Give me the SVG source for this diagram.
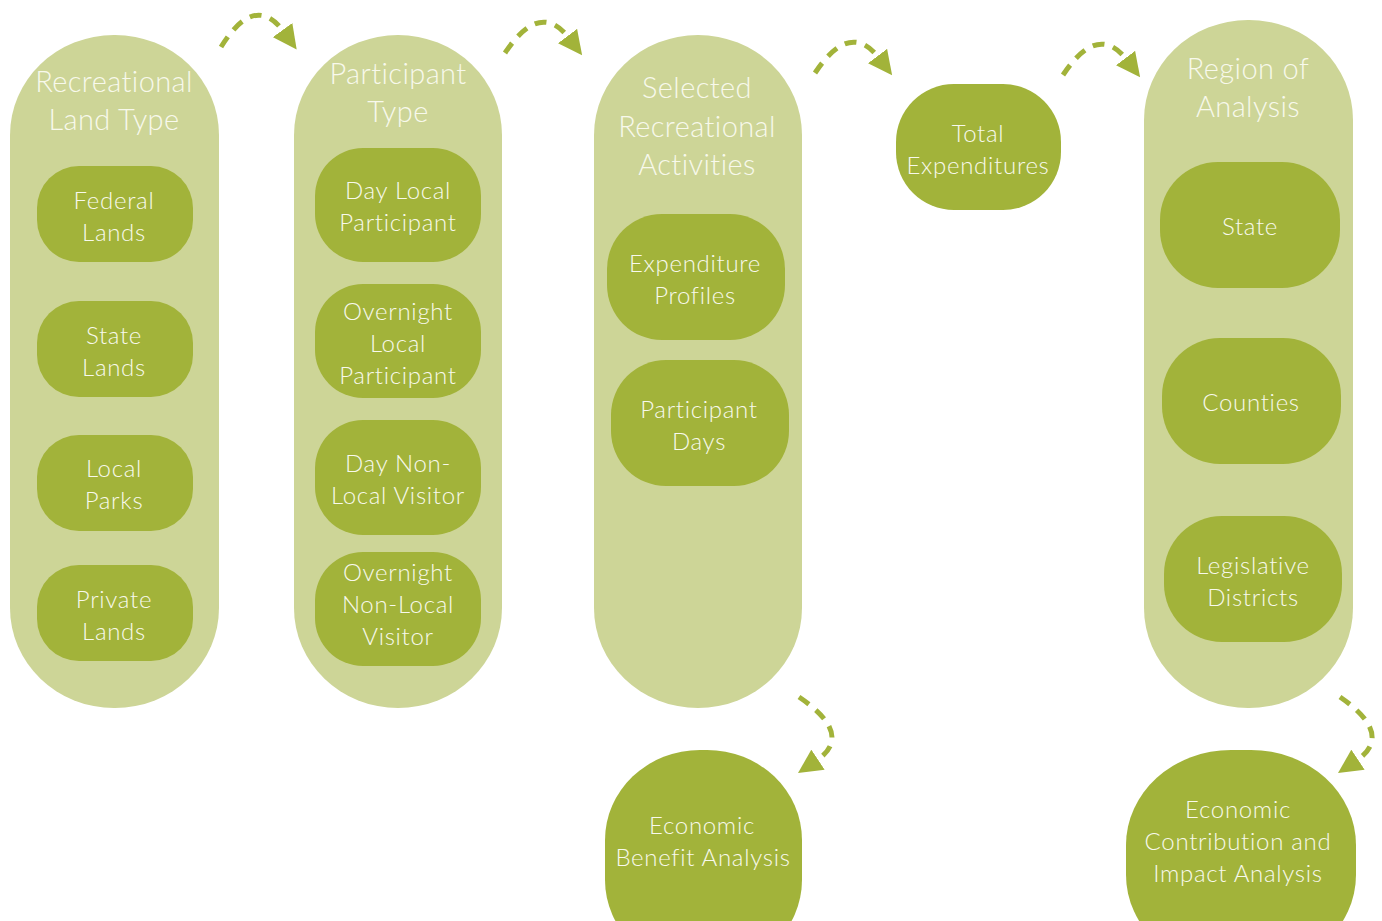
<svg xmlns="http://www.w3.org/2000/svg" width="1382" height="921" viewBox="0 0 1382 921">
<defs>
<style>
.outer{fill:#cdd597}
.inner{fill:#a2b33a}
.t{font-family:Lato,"Open Sans","Liberation Sans",sans-serif;font-weight:300;fill:#f8f9ec;text-anchor:middle}
.title{font-size:29px;letter-spacing:0.4px}
.lbl{font-size:24px;letter-spacing:0.7px}
.arr{fill:none;stroke:#a2b33a;stroke-width:5;stroke-dasharray:12 9}
</style>
<marker id="ah" viewBox="0 0 10 10" refX="1" refY="5" markerUnits="userSpaceOnUse" markerWidth="24" markerHeight="24" orient="auto">
<path d="M0,0 L10,5 L0,10 z" fill="#a2b33a"/>
</marker>
</defs>
<rect width="1382" height="921" fill="#ffffff"/>

<g id="col-land">
<rect class="outer" x="10" y="35" width="209" height="673" rx="104" ry="100"/>
<text class="t title" x="114" y="92">Recreational</text>
<text class="t title" x="114" y="130">Land Type</text>
</g>
<g id="federal-lands"><rect class="inner" x="37" y="166" width="156" height="96" rx="42"/>
<text class="t lbl" x="114" y="209">Federal</text><text class="t lbl" x="114" y="241">Lands</text></g>
<g id="state-lands"><rect class="inner" x="37" y="301" width="156" height="96" rx="42"/>
<text class="t lbl" x="114" y="344">State</text><text class="t lbl" x="114" y="376">Lands</text></g>
<g id="local-parks"><rect class="inner" x="37" y="435" width="156" height="96" rx="42"/>
<text class="t lbl" x="114" y="477">Local</text><text class="t lbl" x="114" y="509">Parks</text></g>
<g id="private-lands"><rect class="inner" x="37" y="565" width="156" height="96" rx="42"/>
<text class="t lbl" x="114" y="608">Private</text><text class="t lbl" x="114" y="640">Lands</text></g>

<g id="col-participant">
<rect class="outer" x="294" y="35" width="208" height="673" rx="104" ry="100"/>
<text class="t title" x="398" y="84">Participant</text>
<text class="t title" x="398" y="122">Type</text>
</g>
<g id="day-local"><rect class="inner" x="315" y="148" width="166" height="114" rx="48"/>
<text class="t lbl" x="398" y="199">Day Local</text><text class="t lbl" x="398" y="231">Participant</text></g>
<g id="overnight-local"><rect class="inner" x="315" y="284" width="166" height="114" rx="48"/>
<text class="t lbl" x="398" y="320">Overnight</text><text class="t lbl" x="398" y="352">Local</text><text class="t lbl" x="398" y="384">Participant</text></g>
<g id="day-nonlocal"><rect class="inner" x="315" y="420" width="166" height="115" rx="48"/>
<text class="t lbl" x="398" y="472">Day Non-</text><text class="t lbl" x="398" y="504">Local Visitor</text></g>
<g id="overnight-nonlocal"><rect class="inner" x="315" y="552" width="166" height="114" rx="48"/>
<text class="t lbl" x="398" y="581">Overnight</text><text class="t lbl" x="398" y="613">Non-Local</text><text class="t lbl" x="398" y="645">Visitor</text></g>

<g id="col-activities">
<rect class="outer" x="594" y="35" width="208" height="673" rx="104" ry="100"/>
<text class="t title" x="697" y="98">Selected</text>
<text class="t title" x="697" y="137">Recreational</text>
<text class="t title" x="697" y="175">Activities</text>
</g>
<g id="expenditure-profiles"><rect class="inner" x="607" y="214" width="178" height="126" rx="55"/>
<text class="t lbl" x="695" y="272">Expenditure</text><text class="t lbl" x="695" y="304">Profiles</text></g>
<g id="participant-days"><rect class="inner" x="611" y="360" width="178" height="126" rx="55"/>
<text class="t lbl" x="699" y="418">Participant</text><text class="t lbl" x="699" y="450">Days</text></g>

<g id="total-expenditures"><rect class="inner" x="896" y="84" width="165" height="126" rx="58"/>
<text class="t lbl" x="978" y="142">Total</text><text class="t lbl" x="978" y="174">Expenditures</text></g>

<g id="col-region">
<rect class="outer" x="1144" y="20" width="209" height="688" rx="104" ry="100"/>
<text class="t title" x="1248" y="79">Region of</text>
<text class="t title" x="1248" y="117">Analysis</text>
</g>
<g id="state"><rect class="inner" x="1160" y="162" width="180" height="126" rx="58"/>
<text class="t lbl" x="1250" y="235">State</text></g>
<g id="counties"><rect class="inner" x="1162" y="338" width="179" height="126" rx="58"/>
<text class="t lbl" x="1251" y="411">Counties</text></g>
<g id="legislative"><rect class="inner" x="1164" y="516" width="178" height="126" rx="58"/>
<text class="t lbl" x="1253" y="574">Legislative</text><text class="t lbl" x="1253" y="606">Districts</text></g>

<g id="economic-benefit"><rect class="inner" x="605" y="750" width="197" height="220" rx="95" ry="90"/>
<text class="t lbl" x="702" y="834">Economic</text><text class="t lbl" x="703" y="866">Benefit Analysis</text></g>
<g id="economic-contribution"><rect class="inner" x="1126" y="750" width="230" height="220" rx="105" ry="95"/>
<text class="t lbl" x="1238" y="818">Economic</text><text class="t lbl" x="1238" y="850">Contribution and</text><text class="t lbl" x="1238" y="882">Impact Analysis</text></g>

<g id="connectors">
<path class="arr" d="M221,47 Q255,-8 284,32" marker-end="url(#ah)"/>
<path class="arr" d="M505,53 Q540,0 569,38" marker-end="url(#ah)"/>
<path class="arr" d="M815,73 Q850,20 879,58" marker-end="url(#ah)"/>
<path class="arr" d="M1063,75 Q1098,22 1127,60" marker-end="url(#ah)"/>
<path class="arr" d="M799,697 Q855,735 816,761" marker-end="url(#ah)"/>
<path class="arr" d="M1340,697 Q1395,735 1356,761" marker-end="url(#ah)"/>
</g>
</svg>
